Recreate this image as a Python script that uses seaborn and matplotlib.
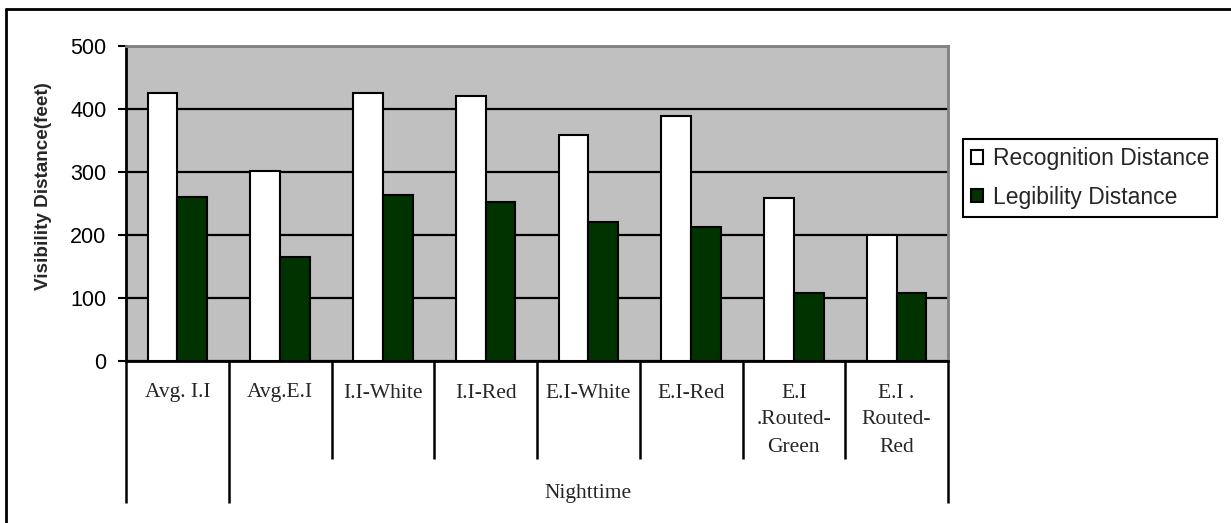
import matplotlib
matplotlib.use("Agg")
import matplotlib.pyplot as plt
from matplotlib.lines import Line2D
import seaborn as sns
import pandas as pd

# Categories along the x axis (each label split into its printed lines)
categories = ["Avg. I.I", "Avg.E.I", "I.I-White", "I.I-Red", "E.I-White",
              "E.I-Red", "E.I .Routed-Green", "E.I . Routed-Red"]
category_lines = [["Avg. I.I"], ["Avg.E.I"], ["I.I-White"], ["I.I-Red"],
                  ["E.I-White"], ["E.I-Red"], ["E.I", ".Routed-", "Green"],
                  ["E.I .", "Routed-", "Red"]]
group_label = "Nighttime"

series_names = ["Recognition Distance", "Legibility Distance"]
recognition = [425, 302, 426, 421, 358, 389, 259, 200]
legibility = [260, 165, 264, 253, 221, 212, 108, 108]

y_ticks = [0, 100, 200, 300, 400, 500]

df = pd.DataFrame({
    "category": categories * 2,
    "series": [series_names[0]] * len(categories) + [series_names[1]] * len(categories),
    "value": recognition + legibility,
})

W, H = 1231, 523
sns.set_theme(style="white")
plt.rcParams["font.family"] = ["Liberation Sans", "DejaVu Sans"]

fig = plt.figure(figsize=(W / 100, H / 100), dpi=100)
ax = fig.add_axes([126 / W, 1 - 361 / H, (948 - 126) / W, (361 - 46) / H])

sns.barplot(data=df, x="category", y="value", hue="series", order=categories,
            hue_order=series_names, palette=["#FFFFFF", "#003300"],
            width=0.58, gap=0, edgecolor="black", linewidth=1.5,
            saturation=1, ax=ax, legend=True)

ax.set_facecolor("#C0C0C0")
ax.set_xlim(-0.5, len(categories) - 0.5)
ax.set_ylim(0, 500)
ax.set_yticks(y_ticks)
ax.set_yticklabels([str(v) for v in y_ticks], fontsize=15.5, color="black")
ax.yaxis.grid(True, color="black", linewidth=1.6)
ax.set_axisbelow(True)
ax.tick_params(axis="y", direction="out", length=6, width=1.5, pad=8,
               left=True, color="black")
ax.set_xticks([])
ax.set_xlabel("")
ax.set_ylabel("")

for side in ("left", "bottom"):
    ax.spines[side].set_color("black")
    ax.spines[side].set_linewidth(2)
for side in ("top", "right"):
    ax.spines[side].set_color("#808080")
    ax.spines[side].set_linewidth(2)

# Y-axis title
fig.text(44 / W, 1 - 186 / H, "Visibility Distance(feet)", rotation=90,
         ha="center", va="center", fontsize=13.6, fontweight="bold")

# Category table below the axis
xt = ax.get_xaxis_transform()
ax_h = 361 - 46
short_end = -(459 - 361) / ax_h
long_end = -(503 - 361) / ax_h
n = len(categories)
for i in range(n + 1):
    x = i - 0.5
    end = long_end if i in (0, 1, n) else short_end
    ax.plot([x, x], [0, end], color="black", linewidth=1.8,
            transform=xt, clip_on=False, solid_capstyle="butt")

serif = ["Liberation Serif", "DejaVu Serif"]
first_base = 397.5
line_step = 27
for i, lines in enumerate(category_lines):
    for k, line in enumerate(lines):
        y = -(first_base + k * line_step - 361) / ax_h
        ax.text(i, y, line, transform=xt, ha="center", va="baseline",
                fontsize=15.5, family=serif, clip_on=False)

ax.text((1 - 0.5 + n - 0.5) / 2, -(498 - 361) / ax_h, group_label,
        transform=xt, ha="center", va="baseline", fontsize=15.5,
        family=serif, clip_on=False)

# Legend
handles, labels = ax.get_legend_handles_labels()
ax.legend_.remove()
leg = fig.legend(handles, labels, loc="upper left",
                 bbox_to_anchor=(963 / W, 1 - 139 / H), fontsize=16.5,
                 frameon=True, fancybox=False, edgecolor="black",
                 framealpha=1, handlelength=0.52, handleheight=0.52,
                 handletextpad=0.42, borderpad=0.36, labelspacing=0.68,
                 borderaxespad=0)
leg.get_frame().set_linewidth(1.5)
for h in leg.legend_handles:
    h.set_edgecolor("black")
    h.set_linewidth(1.5)

# Outer frame
fig.add_artist(Line2D([6 / W, 6 / W], [0, 1 - 9 / H], color="black",
                      linewidth=2, transform=fig.transFigure))
fig.add_artist(Line2D([6 / W, 1], [1 - 9 / H, 1 - 9 / H], color="black",
                      linewidth=2, transform=fig.transFigure))

fig.savefig("out.png", dpi=100)
